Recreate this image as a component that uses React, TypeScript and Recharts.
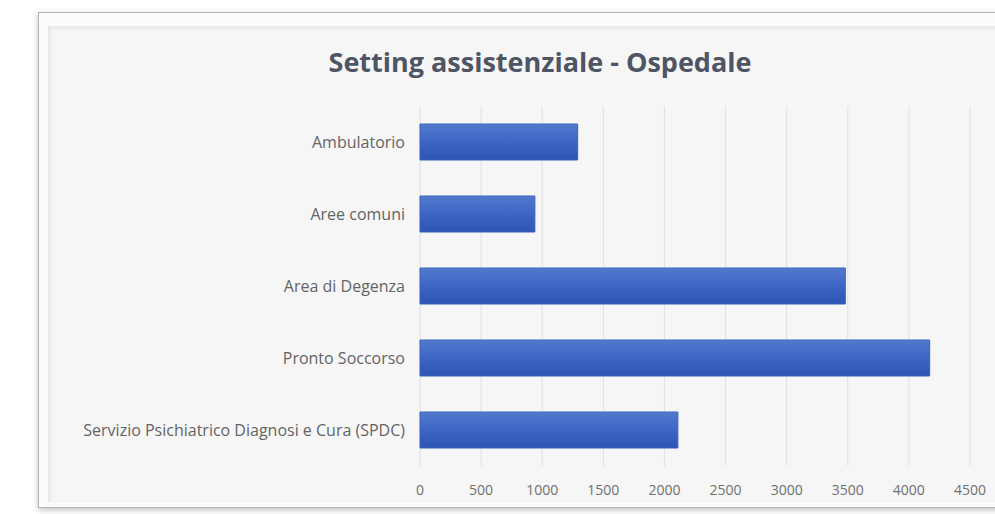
import React from "react";
import { BarChart, Bar, XAxis, YAxis, CartesianGrid } from "recharts";

const categories = [
  "Ambulatorio",
  "Aree comuni",
  "Area di Degenza",
  "Pronto Soccorso",
  "Servizio Psichiatrico Diagnosi e Cura (SPDC)",
];
const values = [1290, 940, 3480, 4170, 2110];
const xTicks = [0, 500, 1000, 1500, 2000, 2500, 3000, 3500, 4000, 4500];
const title = "Setting assistenziale - Ospedale";

const data = categories.map((c, i) => ({ name: c, value: values[i] }));

export default function App() {
  return (
    <div style={{ position: "absolute", left: 0, top: 0, width: 995, height: 514, background: "#ffffff", overflow: "hidden" }}>
      <div
        style={{
          position: "absolute",
          left: 38,
          top: 12,
          width: 1000,
          height: 494,
          border: "1px solid #b5b5b5",
          background: "#fbfbfb",
          boxShadow: "0 2px 6px rgba(0,0,0,0.25)",
        }}
      />
      <div
        style={{
          position: "absolute",
          left: 48,
          top: 26,
          width: 990,
          height: 476,
          background: "#f6f6f6",
          boxShadow: "inset 2px 2px 4px rgba(0,0,0,0.08)",
        }}
      />
      <div
        style={{
          position: "absolute",
          left: 0,
          top: 44,
          width: 1080,
          textAlign: "center",
          fontFamily: "'Open Sans', sans-serif",
          fontWeight: 700,
          fontSize: 27,
          color: "#4e5564",
          lineHeight: "36px",
        }}
      >
        {title}
      </div>
      <div style={{ position: "absolute", left: 0, top: 0 }}>
        <BarChart
          width={995}
          height={514}
          layout="vertical"
          data={data}
          margin={{ top: 106, right: 25, bottom: 18, left: 0 }}
          barCategoryGap="25%"
        >
          <defs>
            <linearGradient id="barGrad" x1="0" y1="0" x2="0" y2="1">
              <stop offset="0%" stopColor="#5479cc" />
              <stop offset="50%" stopColor="#3d66c4" />
              <stop offset="100%" stopColor="#2c55b5" />
            </linearGradient>
          </defs>
          <CartesianGrid horizontal={false} stroke="#e0e0e0" />
          <XAxis
            type="number"
            domain={[0, 4500]}
            ticks={xTicks}
            axisLine={false}
            tickLine={false}
            tickSize={8}
            tickMargin={11}
            height={30}
            interval={0}
            tick={{ fill: "#707070", fontSize: 14, fontFamily: "'Open Sans', sans-serif" }}
          />
          <YAxis
            type="category"
            dataKey="name"
            width={420}
            axisLine={false}
            tickLine={false}
            tickSize={8}
            tickMargin={7}
            interval={0}
            tick={{ fill: "#646464", fontSize: 16, fontFamily: "'Open Sans', sans-serif" }}
          />
          <Bar dataKey="value" fill="url(#barGrad)" stroke="#3a62c0" strokeWidth={1} isAnimationActive={false} />
        </BarChart>
      </div>
    </div>
  );
}
